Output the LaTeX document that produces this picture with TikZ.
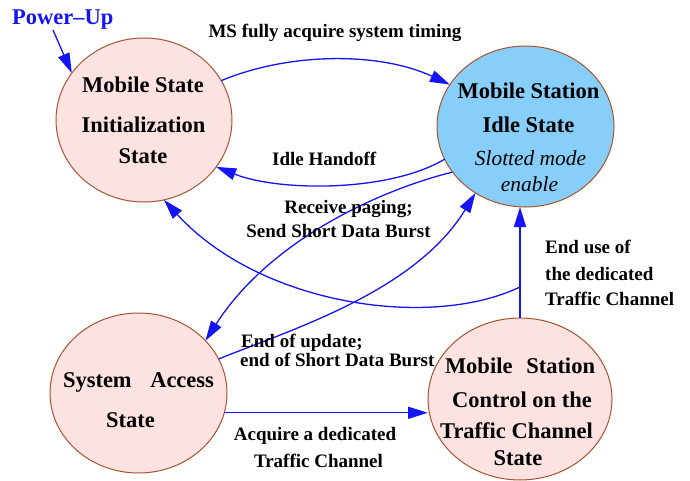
\documentclass[tikz,border=0pt]{standalone}
\usepackage{fontspec}
\setmainfont{Liberation Serif}
\usetikzlibrary{arrows.meta,shapes.geometric,calc}
\definecolor{pinkf}{RGB}{252,226,224}
\definecolor{bluef}{RGB}{135,206,250}
\definecolor{brd}{RGB}{168,84,44}
\definecolor{eblue}{RGB}{20,20,245}
\tikzset{
  st/.style={ellipse, draw=brd, line width=1pt, inner sep=0pt, outer sep=0pt},
  sl/.style={font=\fontsize{22.5}{27}\selectfont\bfseries, inner sep=0pt, anchor=base},
  si/.style={font=\fontsize{21.4}{26}\selectfont\itshape, inner sep=0pt, anchor=base},
  el/.style={font=\fontsize{19}{23}\selectfont\bfseries, inner sep=0pt, anchor=base},
  ar/.style={draw=eblue, line width=1.3pt, -{Triangle[length=20pt,width=12pt]}},
}
\begin{document}
\begin{tikzpicture}[x=1pt,y=-1pt]
\useasboundingbox (0,0) rectangle (690,481);
% states
\node[st, fill=pinkf, minimum width=176pt, minimum height=164pt] (init) at (144,120) {};
\node[st, fill=bluef, minimum width=177pt, minimum height=161pt] (idle) at (525.5,126.5) {};
\node[st, fill=pinkf, minimum width=177pt, minimum height=160pt] (acc) at (138.5,393) {};
\node[st, fill=pinkf, minimum width=184pt, minimum height=162pt] (tch) at (520,399) {};
% state texts
\node[sl] (i1) at (143,93) {Mobile State};
\node[sl] (i2) at (143.5,133) {Initialization};
\node[sl] (i3) at (143,164) {State};
\node[sl] (d1) at (528.5,99) {Mobile Station};
\node[sl] (d2) at (528.5,133) {Idle State};
\node[si] (d3) at (530.5,166) {Slotted mode};
\node[si] (d4) at (529.5,192) {enable};
\node[sl] (a1) at (138.5,387) {\makebox[151pt]{System\hfill Access}};
\node[sl] (a2) at (130.5,427) {State};
\node[sl] (t1) at (520,373) {\makebox[150pt]{Mobile\hfill Station}};
\node[sl] (t2) at (522,407) {Control on the};
\node[sl] (t3) at (516.5,438) {Traffic Channel};
\node[sl] (t4) at (518,465) {State};
% power up
\node[sl, text=eblue, anchor=base west] (pu) at (12,25) {Power--Up};
\coordinate (pus) at (53,30);
\draw[ar] (pus) -- (init.147);
% transitions
\draw[ar] (init.27.7) .. controls (290,52) and (380,52) .. (idle.151.8);
\draw[ar] (idle.202.1) .. controls (390,192) and (280,192) .. (init.-33.3);
\draw[ar] (idle.212.7) .. controls (380,190) and (270,240) .. (acc.38.4);
\draw[ar] (acc.23.2) .. controls (290,330) and (415,292) .. (idle.233.2);
\draw[ar] (tch.north) -- (tch.north |- idle.south);
\coordinate (jn) at ($(tch.north)+(0,-31)$);
\draw[ar] (jn) .. controls (430,330) and (260,305) .. (init.-76.6);
\draw[ar] (acc.-13.8) -- (acc.-13.8 -| tch.west);
% labels
\node[el] (l1) at (335,38) {MS fully acquire system timing};
\node[el, anchor=base west] (l2) at (272,166) {Idle Handoff};
\node[el] (l3) at (348.5,213) {Receive paging;};
\node[el] (l4) at (338.5,237) {Send Short Data Burst};
\node[el, anchor=base west] (l5) at (545,253) {End use of};
\node[el, anchor=base west] (l6) at (545,280) {the dedicated};
\node[el, anchor=base west] (l7) at (545,305) {Traffic Channel};
\node[el, anchor=base west] (l8) at (241,347) {End of update;};
\node[el, anchor=base west] (l9) at (240,366) {end of Short Data Burst};
\node[el] (l10) at (315,440) {Acquire a dedicated};
\node[el] (l11) at (318.5,467) {Traffic Channel};
\end{tikzpicture}
\end{document}
